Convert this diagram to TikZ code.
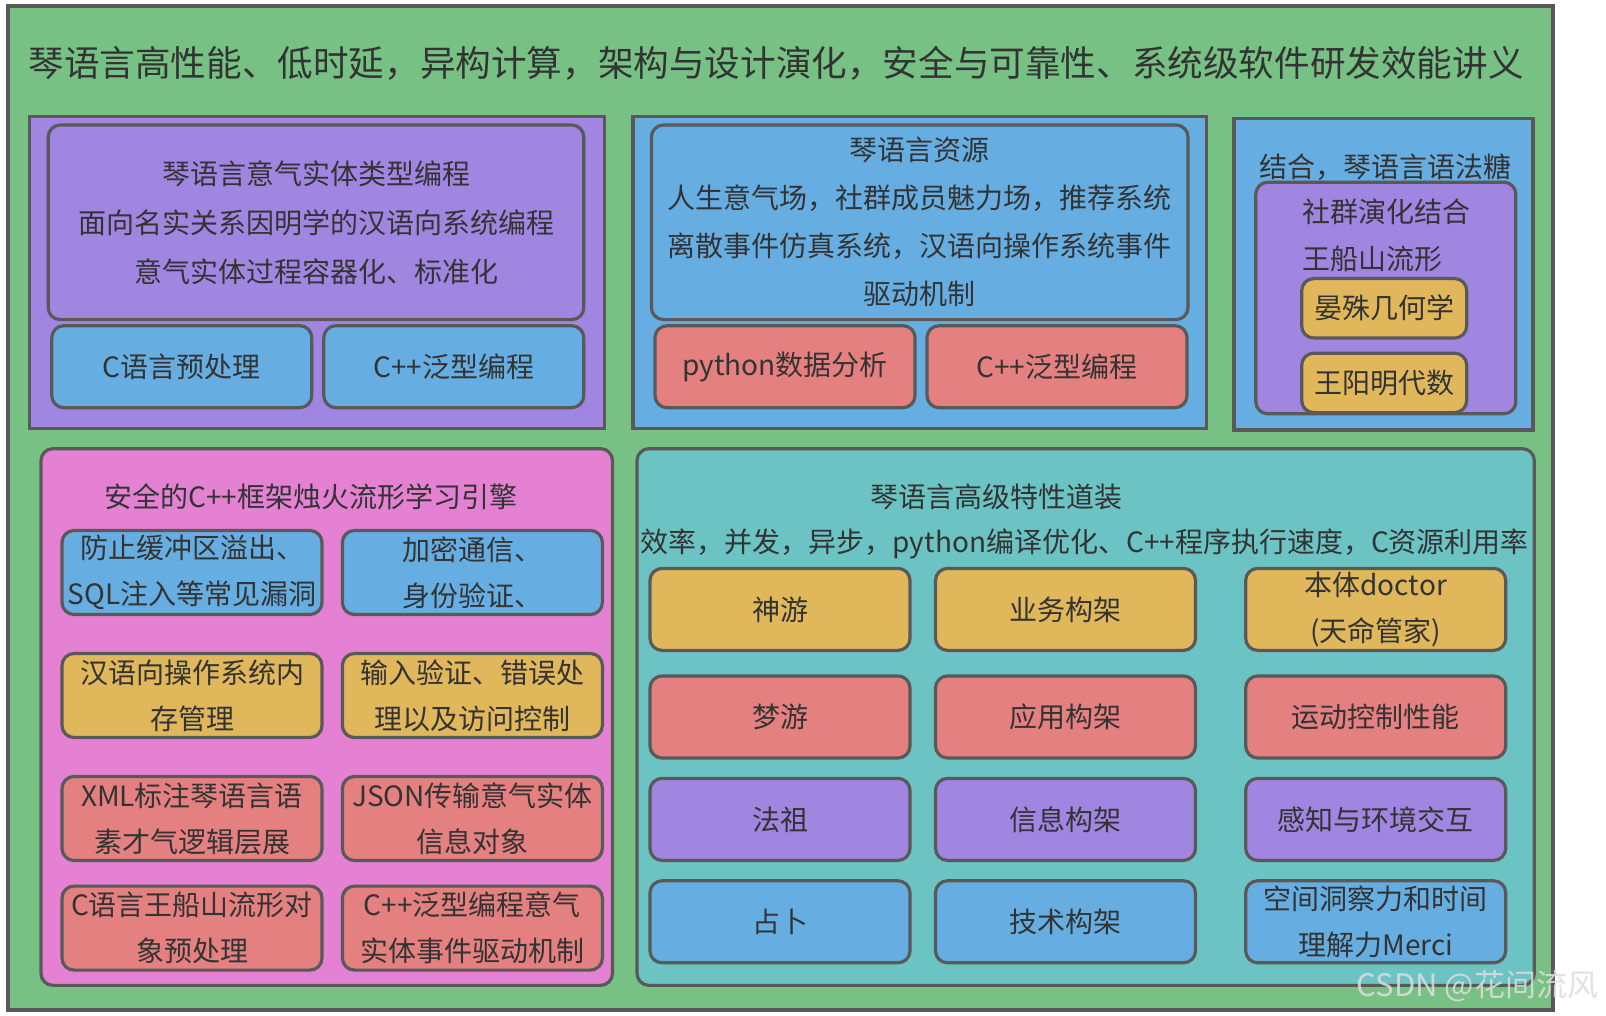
\documentclass[tikz,border=0pt]{standalone}
\usepackage{fontspec}
\setmainfont{Noto Sans CJK SC}
\usetikzlibrary{positioning}
\definecolor{bggreen}{RGB}{119,193,132}
\definecolor{lilac}{RGB}{160,134,224}
\definecolor{skyblue}{RGB}{102,174,226}
\definecolor{salmon}{RGB}{228,128,128}
\definecolor{amber}{RGB}{224,183,91}
\definecolor{orchid}{RGB}{229,129,211}
\definecolor{seafoam}{RGB}{108,195,195}
\definecolor{edgegray}{RGB}{89,89,89}
\definecolor{txtgray}{RGB}{51,51,51}
\tikzset{
  frame/.style = {draw=edgegray, line width=1.6pt, rectangle, inner sep=0pt, outer sep=0pt},
  panel/.style = {frame, rounded corners=6pt},
  cell/.style = {panel, minimum width=130pt, minimum height=41pt, align=center, text=txtgray, font=\fontsize{14}{23}\selectfont},
  txt/.style = {text=txtgray, font=\fontsize{14}{24}\selectfont, align=center, inner sep=0pt}
}

\begin{document}
\begin{tikzpicture}[x=0.5pt, y=-0.5pt]
  \fill[white] (0,0) rectangle (1606,1016);
  \useasboundingbox (0,0) rectangle (1606,1016);

  % outer frame and title
  \node[frame, fill=bggreen, minimum width=772.5pt, minimum height=502pt] (outer) at (780.5,508) {};
  \node[txt, font=\fontsize{17.8}{20}\selectfont] (title) at (776,63.5) {琴语言高性能、低时延，异构计算，架构与设计演化，安全与可靠性、系统级软件研发效能讲义};

  % type programming
  \node[frame, fill=lilac, minimum width=287.3pt, minimum height=155.6pt] (typebox) at (317,272.5) {};
  \node[panel, fill=lilac, minimum width=267.8pt, minimum height=97.3pt, align=center, text=txtgray, font=\fontsize{14}{24.5}\selectfont] (typing) at (316,222.3) {琴语言意气实体类型编程\\面向名实关系因明学的汉语向系统编程\\意气实体过程容器化、标准化};
  \node[cell, fill=skyblue] (cpre) at (181.8,366.7) {C语言预处理};
  \node[cell, fill=skyblue, right=6pt of cpre] (cppgen) {C++泛型编程};

  % resources
  \node[frame, fill=skyblue, minimum width=286.8pt, minimum height=155.6pt] (resbox) at (919.7,272.5) {};
  \node[panel, fill=skyblue, minimum width=268.3pt, minimum height=97.3pt, align=center, text=txtgray, font=\fontsize{14}{24}\selectfont] (res) at (919.7,222.3) {琴语言资源\\人生意气场，社群成员魅力场，推荐系统\\离散事件仿真系统，汉语向操作系统事件\\驱动机制};
  \node[cell, fill=salmon] (pydata) at (785,366.7) {python数据分析};
  \node[cell, fill=salmon, right=6pt of pydata] (cppgen2) {C++泛型编程};

  % syntax sugar
  \node[frame, fill=skyblue, minimum width=149.5pt, minimum height=155.6pt] (sugarbox) at (1383.5,274.4) {};
  \node[txt] (sugar) at (1385,167) {结合，琴语言语法糖};
  \node[panel, fill=lilac, minimum width=130pt, minimum height=115.8pt] (flow) at (1385.8,298) {};
  \node[txt, anchor=west] (flowa) at (1302,212) {社群演化结合};
  \node[txt, anchor=west] (flowb) at (1302,259) {王船山流形};
  \node[cell, fill=amber, minimum width=82.5pt, minimum height=29.7pt] (yanshu) at (1384.2,308.3) {晏殊几何学};
  \node[cell, fill=amber, minimum width=82.5pt, minimum height=29.7pt, below=7.6pt of yanshu] (wangym) {王阳明代数};

  % safety engine
  \node[panel, fill=orchid, minimum width=285.75pt, minimum height=268.35pt] (safebox) at (326.75,717) {};
  \node[txt] (safe) at (311,496.7) {安全的C++框架烛火流形学习引擎};
  \node[cell, fill=skyblue, minimum height=42pt] (overflow) at (192,572.5) {防止缓冲区溢出、\\SQL注入等常见漏洞};
  \node[cell, fill=skyblue, minimum height=42pt, right=10.2pt of overflow] (crypto) {加密通信、\\身份验证、};
  \node[cell, fill=amber, minimum height=42pt, below=19.5pt of overflow] (memory) {汉语向操作系统内\\存管理};
  \node[cell, fill=amber, minimum height=42pt, below=19.5pt of crypto] (access) {输入验证、错误处\\理以及访问控制};
  \node[cell, fill=salmon, minimum height=42pt, below=19.5pt of memory] (xml) {XML标注琴语言语\\素才气逻辑层展};
  \node[cell, fill=salmon, minimum height=42pt, below=19.5pt of access] (json) {JSON传输意气实体\\信息对象};
  \node[cell, fill=salmon, minimum height=42pt, below=12.8pt of xml] (cflow) {C语言王船山流形对\\象预处理};
  \node[cell, fill=salmon, minimum height=42pt, below=12.8pt of json] (cppevent) {C++泛型编程意气\\实体事件驱动机制};

  % advanced features
  \node[panel, fill=seafoam, minimum width=448.65pt, minimum height=268.35pt] (featbox) at (1085.65,717) {};
  \node[txt] (feat) at (996.5,496.7) {琴语言高级特性道装};
  \node[txt] (featsub) at (1084.8,543.8) {效率，并发，异步，python编译优化、C++程序执行速度，C资源利用率};
  \node[cell, fill=amber] (shenyou) at (780,609.4) {神游};
  \node[cell, fill=amber, right=12.75pt of shenyou] (yewu) {业务构架};
  \node[cell, fill=amber, right=25.1pt of yewu] (doctor) {本体doctor\\(天命管家)};
  \node[cell, fill=salmon, below=12.8pt of shenyou] (mengyou) {梦游};
  \node[cell, fill=salmon, below=12.8pt of yewu] (yingyong) {应用构架};
  \node[cell, fill=salmon, below=12.8pt of doctor] (motion) {运动控制性能};
  \node[cell, fill=lilac, below=10.2pt of mengyou] (fazu) {法祖};
  \node[cell, fill=lilac, below=10.2pt of yingyong] (xinxi) {信息构架};
  \node[cell, fill=lilac, below=10.2pt of motion] (ganzhi) {感知与环境交互};
  \node[cell, fill=skyblue, below=10.2pt of fazu] (zhanbu) {占卜};
  \node[cell, fill=skyblue, below=10.2pt of xinxi] (jishu) {技术构架};
  \node[cell, fill=skyblue, below=10.2pt of ganzhi] (merci) {空间洞察力和时间\\理解力Merci};

  % watermark
  \node[txt, text=black!13, opacity=0.85, font=\fontsize{15.5}{18}\selectfont] (mark) at (1477.5,986) {CSDN @花间流风};
\end{tikzpicture}
\end{document}
